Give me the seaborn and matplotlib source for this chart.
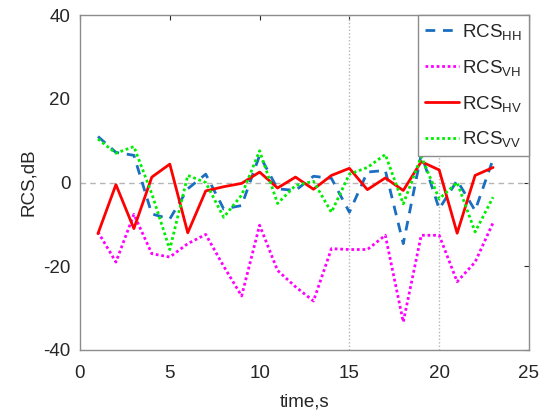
import matplotlib
matplotlib.use("Agg")
import matplotlib.pyplot as plt
import seaborn as sns
import pandas as pd

time_s = list(range(1, 24))
rcs_hh = [11, 7.2, 6.5, -7.5, -8.7, -1.5, 2, -6.3, -5.5, 6.5, -1.5, -1.9, 1.5, 1, -7.1, 2.5, 2.9, -14.6, 6.8, -6.3, 0.5, -6.7, 5.6]
rcs_vh = [-11.8, -19, -7.6, -17, -17.8, -14.6, -12.4, -20, -27.1, -10.2, -21, -24.9, -28.3, -15.8, -16, -16, -12.6, -33.3, -12.6, -12.6, -23.7, -19, -9.6]
rcs_hv = [-12.2, -0.5, -11, 1.3, 4.4, -12, -2, -1, -0.2, 2.5, -1.3, 1.3, -1.6, 1.7, 3.4, -1.7, 1.1, -1.9, 5, 3.0, -12.1, 1.7, 3.6]
rcs_vv = [10.4, 7, 8.6, -2.7, -16, 1.7, 0, -8.3, -3, 7.6, -5, -0.7, 0.3, -7.1, 2, 3.6, 6.7, -5.1, 6.2, -3.9, 0, -11.8, -3.5]

labels = [r'RCS$_{\mathrm{HH}}$', r'RCS$_{\mathrm{VH}}$', r'RCS$_{\mathrm{HV}}$', r'RCS$_{\mathrm{VV}}$']

sns.set_theme(style="white")
plt.rcParams['font.family'] = ['Liberation Sans', 'DejaVu Sans']
plt.rcParams['mathtext.fontset'] = 'custom'
plt.rcParams['mathtext.rm'] = 'Liberation Sans'
plt.rcParams['mathtext.it'] = 'Liberation Sans:italic'
plt.rcParams['axes.unicode_minus'] = False

fig = plt.figure(figsize=(5.42, 4.19), dpi=100)
ax = fig.add_axes([0.1476, 0.1647, 0.976 - 0.1476, 0.964 - 0.1647])

# reference lines
ax.axhline(0, color='#b5b5b5', linestyle=(0, (4, 3)), linewidth=1.0, zorder=1)
ax.axvline(15, color='#b5b5b5', linestyle=(0, (1, 1.5)), linewidth=1.0, zorder=1)
ax.axvline(20, color='#b5b5b5', linestyle=(0, (1, 1.5)), linewidth=1.0, zorder=1)

series = [
    (rcs_hh, '#1a6fc0', (0, (3.5, 2.8))),
    (rcs_vh, '#ff00ff', (0, (1, 1))),
    (rcs_hv, '#ff0000', '-'),
    (rcs_vv, '#00ee00', (0, (1, 1))),
]
for (vals, col, ls), lab in zip(series, labels):
    df = pd.DataFrame({'time': time_s, 'rcs': vals})
    sns.lineplot(data=df, x='time', y='rcs', ax=ax, color=col, linestyle=ls,
                 linewidth=2.0, label=lab, zorder=3)

ax.set_xlim(0, 25)
ax.set_ylim(-40, 40)
ax.set_xticks([0, 5, 10, 15, 20, 25])
ax.set_yticks([-40, -20, 0, 20, 40])
ax.set_xlabel('time,s', fontsize=13.5, color='#262626', labelpad=8)
ax.set_ylabel('RCS,dB', fontsize=13.5, color='#262626', labelpad=4)
ax.tick_params(axis='both', which='both', direction='in', length=3.5, width=0.8,
               top=True, right=True, labelsize=13.5, colors='#262626', pad=7)
ax.tick_params(axis='x', pad=11)
for sp in ax.spines.values():
    sp.set_color('#8c8c8c')
    sp.set_linewidth(1.0)

leg = ax.legend(loc='upper right', borderaxespad=0, frameon=True, fancybox=False,
                fontsize=13.5, handlelength=1.8, handletextpad=0.2, labelspacing=0.85,
                borderpad=0.35)
leg.get_frame().set_edgecolor('#8c8c8c')
leg.get_frame().set_linewidth(1.0)
leg.get_frame().set_alpha(1)

fig.savefig('out.png', dpi=100)
